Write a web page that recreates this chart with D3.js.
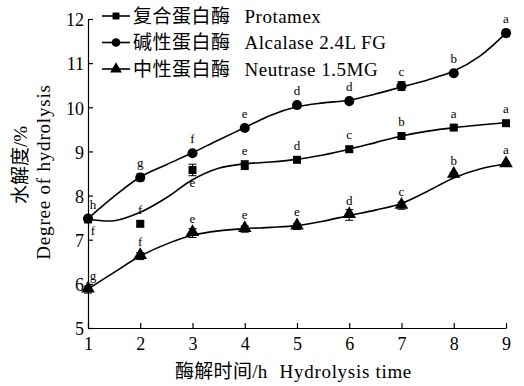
<!DOCTYPE html>
<html>
<head>
<meta charset="utf-8">
<script src="https://cdn.jsdelivr.net/npm/d3@7"></script>
<style>
  body { margin: 0; background: #fff; }
  svg { display: block; font-family: 'Liberation Serif', 'Noto Sans CJK SC', serif; }
  .axis path, .axis line { stroke: #000; stroke-width: 1.2; }
  .axis text { font-size: 18px; fill: #000; font-family: 'Liberation Serif', serif; }
  .fit { fill: none; stroke: #000; stroke-width: 1.6; }
  .sig { font-size: 13px; fill: #000; text-anchor: middle; }
</style>
</head>
<body>
<div id="chart-container" style="width:524px;height:386px"></div>
<script>
const hours = [1, 2, 3, 4, 5, 6, 7, 8, 9]
const yTicks = [5, 6, 7, 8, 9, 10, 11, 12]

const protamex = [7.46, 7.36, 8.58, 8.69, 8.81, 9.05, 9.35, 9.54, 9.64]
const alcalase = [7.48, 8.41, 8.96, 9.53, 10.05, 10.14, 10.48, 10.77, 11.68]
const neutrase = [5.87, 6.63, 7.15, 7.24, 7.30, 7.56, 7.77, 8.47, 8.71]

const protamexErr = [0.05, 0.05, 0.13, 0.1, 0.06, 0.06, 0.05, 0.05, 0.05]
const alcalaseErr = [0.05, 0.08, 0.05, 0.05, 0.05, 0.05, 0.1, 0.05, 0.08]
const neutraseErr = [0.08, 0.08, 0.1, 0.07, 0.07, 0.12, 0.08, 0.05, 0.05]

const protamexSig = ['f', 'f', 'e', 'e', 'd', 'c', 'b', 'a', 'a']
const alcalaseSig = ['h', 'g', 'f', 'e', 'd', 'd', 'c', 'b', 'a']
const neutraseSig = ['g', 'f', 'e', 'e', 'e', 'd', 'c', 'b', 'a']

// fitted curves, every half hour
const fitHours = [1, 1.5, 2, 2.5, 3, 3.5, 4, 4.5, 5, 5.5, 6, 6.5, 7, 7.5, 8, 8.5, 9]
const protamexFit = [7.47, 7.43, 7.62, 7.95, 8.36, 8.62, 8.72, 8.76, 8.82, 8.92, 9.05, 9.2, 9.35, 9.46, 9.54, 9.6, 9.65]
const alcalaseFit = [7.48, 7.98, 8.42, 8.7, 8.97, 9.26, 9.54, 9.82, 10.01, 10.1, 10.16, 10.3, 10.46, 10.62, 10.82, 11.16, 11.68]
const neutraseFit = [5.88, 6.26, 6.63, 6.9, 7.1, 7.2, 7.25, 7.28, 7.32, 7.42, 7.55, 7.67, 7.82, 8.1, 8.4, 8.6, 8.72]

const legendCn = ['复合蛋白酶', '碱性蛋白酶', '中性蛋白酶']
const legendEn = ['Protamex', 'Alcalase 2.4L FG', 'Neutrase 1.5MG']

const series = [
  { values: protamex, err: protamexErr, sig: protamexSig, fit: protamexFit, shape: 'square', below: [0, 2] },
  { values: alcalase, err: alcalaseErr, sig: alcalaseSig, fit: alcalaseFit, shape: 'circle', below: [] },
  { values: neutrase, err: neutraseErr, sig: neutraseSig, fit: neutraseFit, shape: 'triangle', below: [] }
]

const margin = { top: 19, right: 18, bottom: 58, left: 88 }
const width = 524 - margin.left - margin.right
const height = 386 - margin.top - margin.bottom

const x = d3.scaleLinear().range([0, width]).domain([1, 9])
const y = d3.scaleLinear().range([height, 0]).domain([5, 12])

const svg = d3.select('#chart-container').append('svg')
  .attr('width', 524)
  .attr('height', 386)
  .append('g')
  .attr('transform', 'translate(' + margin.left + ',' + margin.top + ')')

svg.append('g')
  .attr('class', 'x axis')
  .attr('transform', 'translate(0,' + height + ')')
  .call(d3.axisBottom(x).tickValues(hours).tickSizeInner(-5).tickSizeOuter(0).tickPadding(9).tickFormat(d3.format('d')))

svg.append('g')
  .attr('class', 'y axis')
  .call(d3.axisLeft(y).tickValues(yTicks).tickSizeInner(-5).tickSizeOuter(0).tickPadding(4).tickFormat(d3.format('d')))

svg.selectAll('.y.axis .tick text').attr('dy', '0.38em')

// axis titles
const xTitle = svg.append('text')
  .attr('x', 87)
  .attr('y', height + 50)
  .style('font-size', '19px')
xTitle.append('tspan').style('letter-spacing', '0.3px').text('酶解时间/h')
xTitle.append('tspan').attr('dx', 12).style('letter-spacing', '0.7px').text('Hydrolysis time')

const yTitle = svg.append('g')
  .attr('transform', 'translate(' + (-61) + ',0) rotate(-90)')
yTitle.append('text')
  .attr('x', -146)
  .attr('text-anchor', 'middle')
  .style('font-size', '19px')
  .text('水解度/%')
yTitle.append('text')
  .attr('x', -153)
  .attr('y', 23)
  .attr('text-anchor', 'middle')
  .style('font-size', '19px')
  .style('letter-spacing', '0.8px')
  .text('Degree of hydrolysis')

const symbolType = { square: d3.symbolSquare, circle: d3.symbolCircle, triangle: d3.symbolTriangle }
const symbolSize = { square: 64, circle: 80, triangle: 80 }

const fitLine = d3.line()
  .x(d => x(d[0]))
  .y(d => y(d[1]))
  .curve(d3.curveCatmullRom.alpha(0.5))

series.forEach(s => {
  svg.append('path')
    .datum(fitHours.map((h, i) => [h, s.fit[i]]))
    .attr('class', 'fit')
    .attr('d', fitLine)

  const g = svg.append('g')
  hours.forEach((h, i) => {
    const px = x(h)
    const py = y(s.values[i])
    const e1 = y(s.values[i] + s.err[i])
    const e2 = y(s.values[i] - s.err[i])
    g.append('line').attr('x1', px).attr('x2', px).attr('y1', e1).attr('y2', e2).attr('stroke', '#000').attr('stroke-width', 1)
    g.append('line').attr('x1', px - 4).attr('x2', px + 4).attr('y1', e1).attr('y2', e1).attr('stroke', '#000').attr('stroke-width', 1)
    g.append('line').attr('x1', px - 4).attr('x2', px + 4).attr('y1', e2).attr('y2', e2).attr('stroke', '#000').attr('stroke-width', 1)
    g.append('path')
      .attr('d', d3.symbol().type(symbolType[s.shape]).size(symbolSize[s.shape])())
      .attr('transform', 'translate(' + px + ',' + (py + (s.shape === 'triangle' ? -1 : 0)) + ')')
      .attr('fill', '#000')
    const isBelow = s.below.includes(i)
    g.append('text')
      .attr('class', 'sig')
      .attr('x', px + (i === 0 ? 5 : 0))
      .attr('y', isBelow ? Math.max(e2, py + 5) + 11 : Math.min(e1, py - 6) - 4)
      .text(s.sig[i])
  })
})

// legend
const legend = svg.append('g').attr('transform', 'translate(14,-3)')
series.forEach((s, i) => {
  const row = legend.append('g').attr('transform', 'translate(0,' + (i * 26.5) + ')')
  row.append('line').attr('x1', 0).attr('x2', 28).attr('y1', 0).attr('y2', 0).attr('stroke', '#000').attr('stroke-width', 1.6)
  row.append('path')
    .attr('d', d3.symbol().type(symbolType[s.shape]).size(symbolSize[s.shape] * 0.75)())
    .attr('transform', 'translate(14,0)')
    .attr('fill', '#000')
  const t = row.append('text')
    .attr('x', 31)
    .attr('y', 0)
    .attr('dy', '0.35em')
    .style('font-size', '19px')
  t.append('tspan').style('letter-spacing', '0.5px').text(legendCn[i])
  t.append('tspan').attr('dx', 14).style('letter-spacing', '0.5px').text(legendEn[i])
})
</script>
</body>
</html>
